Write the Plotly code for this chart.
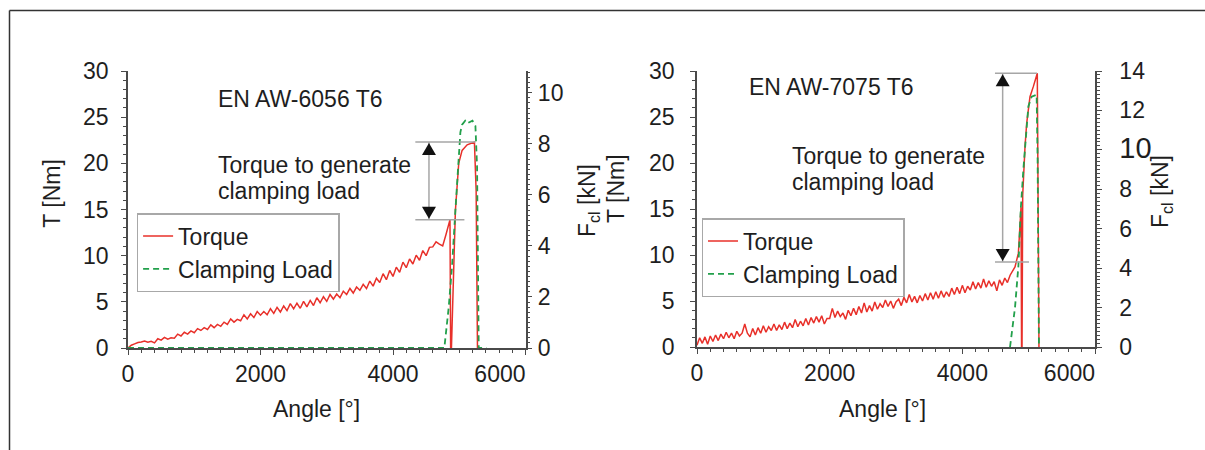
import plotly.graph_objects as go

W, H = 1205, 450
FONT = "Liberation Sans, Arial, Helvetica, sans-serif"
TXT = "#1e1e1e"
AX = "#4a4a4a"
RED = "#e8302a"
GREEN = "#22a04b"
GRAY = "#a6a6a6"

# ---------------- data: EN AW-6056 T6 ----------------
angle_6056 = [0, 50, 100, 150, 200, 250, 300, 350, 400, 450,
              500, 550, 600, 650, 700, 750, 800, 850, 900, 950,
              1000, 1050, 1100, 1150, 1200, 1250, 1300, 1350, 1400, 1450,
              1500, 1550, 1600, 1650, 1700, 1750, 1800, 1850, 1900, 1950,
              2000, 2050, 2100, 2150, 2200, 2250, 2300, 2350, 2400, 2450,
              2500, 2550, 2600, 2650, 2700, 2750, 2800, 2850, 2900, 2950,
              3000, 3050, 3100, 3150, 3200, 3250, 3300, 3350, 3400, 3450,
              3500, 3550, 3600, 3650, 3700, 3750, 3800, 3850, 3900, 3950,
              4000, 4050, 4100, 4150, 4200, 4250, 4300, 4350, 4400, 4450,
              4500, 4550, 4600, 4650, 4700, 4750, 4800, 4850,
              4860, 4870, 4882, 4942, 4992, 5043, 5119, 5229, 5255, 5275]
torque_6056 = [0.0, 0.3, 0.45, 0.6, 0.65, 0.75, 0.62, 0.72, 0.55, 1.0,
               0.85, 1.15, 0.95, 1.1, 1.05, 1.5, 1.3, 1.7, 1.5, 1.85,
               1.65, 2.1, 1.9, 2.2, 2.0, 2.5, 2.2, 2.55, 2.35, 2.8,
               2.55, 3.15, 2.8, 3.1, 2.95, 3.6, 3.15, 3.7, 3.3, 3.95,
               3.55, 3.95, 3.6, 4.25, 3.75, 4.4, 3.9, 4.55, 4.05, 4.8,
               4.25, 4.85, 4.3, 5.05, 4.45, 5.15, 4.6, 5.45, 4.9, 5.55,
               5.05, 5.8, 5.3, 5.85, 5.45, 6.15, 5.8, 6.45, 5.95, 6.6,
               6.25, 6.9, 6.45, 7.25, 6.7, 7.55, 7.1, 8.05, 7.4, 8.4,
               7.75, 8.75, 8.2, 9.3, 8.7, 9.65, 9.1, 10.05, 9.5, 10.55,
               10.0, 10.9, 10.95, 11.5, 11.25, 11.05, 12.3, 13.7,
               13.9, 0.0, 0.0, 14.9, 20.0, 21.4, 22.0, 22.3, 17.0, 0.0]
load_angle_6056 = [0, 4775, 4841, 4891, 4942, 4982, 5017, 5043, 5090, 5120,
                   5160, 5200, 5244, 5269, 5294, 5410]
load_6056 = [0.0, 0.0, 1.6, 3.2, 5.4, 7.2, 8.45, 8.75, 8.9, 8.8,
             8.85, 8.9, 8.7, 7.1, 0.0, 0.0]
bracket_6056_T = [22.3, 13.9]          # Nm, top / bottom of the bracket
bracket_6056_angle = [4337, 5244, 5078, 4543]  # line start, top end, bottom end, arrow

# ---------------- data: EN AW-7075 T6 ----------------
angle_7075 = [0, 40, 80, 120, 160, 200, 240, 280, 320, 360,
              400, 440, 480, 520, 560, 600, 640, 680, 720, 760,
              800, 840, 880, 920, 960, 1000, 1040, 1080, 1120, 1160,
              1200, 1240, 1280, 1320, 1360, 1400, 1440, 1480, 1520, 1560,
              1600, 1640, 1680, 1720, 1760, 1800, 1840, 1880, 1920, 1960,
              2000, 2040, 2080, 2120, 2160, 2200, 2240, 2280, 2320, 2360,
              2400, 2440, 2480, 2520, 2560, 2600, 2640, 2680, 2720, 2760,
              2800, 2840, 2880, 2920, 2960, 3000, 3040, 3080, 3120, 3160,
              3200, 3240, 3280, 3320, 3360, 3400, 3440, 3480, 3520, 3560,
              3600, 3640, 3680, 3720, 3760, 3800, 3840, 3880, 3920, 3960,
              4000, 4040, 4080, 4120, 4160, 4200, 4240, 4280, 4320, 4360,
              4400, 4440, 4480, 4520, 4560, 4600, 4640, 4680,
              4720, 4794, 4845, 4885, 4893, 4900, 4910, 4920, 4945, 4970,
              5020, 5070, 5130, 5150, 5155]
torque_7075 = [0.2, 1.0, 0.4, 1.1, 0.3, 1.2, 0.6, 1.3, 0.7, 1.4,
               0.9, 1.6, 1.0, 1.5, 0.9, 1.7, 1.2, 1.5, 2.5, 1.5,
               1.1, 2.0, 1.3, 2.1, 1.5, 2.3, 1.6, 2.2, 1.8, 2.5,
               1.8, 2.4, 1.9, 2.7, 2.0, 2.6, 2.1, 3.0, 2.2, 2.8,
               2.3, 3.1, 2.4, 3.2, 2.6, 3.3, 2.7, 3.4, 2.5, 3.1,
               3.1, 4.2, 3.2, 3.9, 3.3, 3.7, 3.0, 4.0, 3.4, 4.2,
               3.5, 4.4, 3.7, 4.8, 3.8, 4.5, 3.9, 4.9, 4.1, 4.7,
               4.3, 5.1, 4.4, 5.0, 4.2, 4.9, 5.2, 4.5, 5.4, 4.8,
               5.7, 4.9, 5.5, 4.8, 5.6, 5.0, 5.8, 5.1, 5.9, 5.2,
               6.0, 5.3, 6.1, 5.4, 6.0, 5.5, 6.4, 5.7, 6.5, 5.8,
               6.7, 5.9, 6.6, 6.2, 7.1, 6.3, 7.0, 6.4, 7.4, 6.5,
               7.2, 6.6, 7.1, 6.1, 7.3, 6.7, 7.5, 7.0,
               7.8, 8.7, 10.2, 15.2, 0.0, 0.0, 16.5, 18.5, 21.8, 24.3,
               27.2, 28.3, 29.75, 6.5, 0.0]
load_angle_7075 = [4719, 4794, 4845, 4880, 4920, 4955, 4995, 5045, 5120, 5135, 5155]
load_7075 = [0.0, 2.0, 4.1, 6.95, 9.0, 10.7, 12.2, 12.7, 12.8, 9.5, 0.0]
bracket_7075_T = [29.75, 9.24]
bracket_7075_angle = [4492, 5126, 5005, 4608]

x_ticks = [0, 2000, 4000, 6000]
x_ticktext = ["0", "2000", "4000", "6000" + "\u00a0" * 8]
T_ticks = [0, 5, 10, 15, 20, 25, 30]
F_ticks_6056 = [0, 2, 4, 6, 8, 10]
F_ticks_7075 = [0, 2, 4, 6, 8, 10, 12, 14]
F_ticktext_7075 = ["0", "2", "4", "6", "8",
                   "<span style='font-size:29px'>10</span>", "12", "14"]


def px(x):
    return x / W


def py(y):
    return 1 - y / H


fig = go.Figure()

DASH = "6px,4px"
# left chart traces
fig.add_trace(go.Scatter(x=angle_6056, y=torque_6056, mode="lines", name="Torque",
                         line=dict(color=RED, width=1.5), xaxis="x", yaxis="y",
                         legend="legend"))
fig.add_trace(go.Scatter(x=load_angle_6056, y=load_6056, mode="lines", name="Clamping Load",
                         line=dict(color=GREEN, width=1.8, dash=DASH),
                         xaxis="x", yaxis="y2", legend="legend"))
# right chart traces
fig.add_trace(go.Scatter(x=angle_7075, y=torque_7075, mode="lines", name="Torque",
                         line=dict(color=RED, width=1.5), xaxis="x2", yaxis="y3",
                         legend="legend2"))
fig.add_trace(go.Scatter(x=load_angle_7075, y=load_7075, mode="lines", name="Clamping Load",
                         line=dict(color=GREEN, width=1.8, dash=DASH),
                         xaxis="x2", yaxis="y4", legend="legend2"))

tickfont = dict(family=FONT, size=23, color=TXT)
common_x = dict(range=[0, 6000], tickvals=x_ticks, ticktext=x_ticktext, showline=True,
                linecolor=AX, linewidth=1.5,
                ticks="outside", ticklen=5, tickwidth=1.2, tickcolor=AX, showgrid=False,
                zeroline=False, tickfont=tickfont, ticklabelstandoff=0,
                minor=dict(ticks="outside", dtick=200, ticklen=3, tickwidth=1, tickcolor=AX))
common_T = dict(range=[0, 30], tickvals=T_ticks, showline=True, linecolor=AX, linewidth=1.5,
                ticks="outside", ticklen=5, tickwidth=1.2, tickcolor=AX, showgrid=False,
                zeroline=False, tickfont=tickfont,
                minor=dict(ticks="outside", dtick=1, ticklen=3, tickwidth=1, tickcolor=AX))
common_F = dict(showline=True, linecolor=AX, linewidth=1.5, side="right",
                ticks="outside", ticklen=5, tickwidth=1.2, tickcolor=AX, showgrid=False,
                zeroline=False, tickfont=tickfont,
                minor=dict(ticks="outside", dtick=0.2, ticklen=3, tickwidth=1, tickcolor=AX))

ydom_l = [py(348), py(71)]
ydom_r = [py(347), py(71)]

legend_style = dict(xanchor="left", yanchor="top", bgcolor="white", bordercolor="#a8a8a8",
                    borderwidth=1.5, font=dict(family=FONT, size=23, color=TXT),
                    tracegroupgap=0)

fig.update_layout(
    width=W, height=H,
    margin=dict(l=0, r=0, t=0, b=0, autoexpand=False),
    paper_bgcolor="white", plot_bgcolor="white",
    font=dict(family=FONT, color=TXT),
    xaxis=dict(domain=[px(128), px(525.5)], anchor="y", **common_x),
    yaxis=dict(domain=ydom_l, anchor="x", ticklabelstandoff=8, **common_T),
    yaxis2=dict(range=[0, 10.85], tickvals=F_ticks_6056, overlaying="y", anchor="x",
                ticklabelstandoff=1, **common_F),
    xaxis2=dict(domain=[px(697), px(1095)], anchor="y3", **common_x),
    yaxis3=dict(domain=ydom_r, anchor="x2", ticklabelstandoff=11, **common_T),
    yaxis4=dict(range=[0, 14], tickvals=F_ticks_7075, ticktext=F_ticktext_7075,
                overlaying="y3", anchor="x2", ticklabelstandoff=13, **common_F),
    legend=dict(x=px(136.6), y=py(213), **legend_style),
    legend2=dict(x=px(701.5), y=py(218), **legend_style),
    showlegend=True,
)

# ---------- annotations (text) ----------
def ann(text, x, y, xanchor="center", angle=0, size=23):
    fig.add_annotation(text=text, x=px(x), y=py(y), xref="paper", yref="paper",
                       xanchor=xanchor, yanchor="middle", showarrow=False,
                       textangle=angle, font=dict(family=FONT, size=size, color=TXT))

ann("EN AW-6056 T6", 216, 99, xanchor="left")
ann("Torque to generate", 216, 165, xanchor="left")
ann("clamping load", 216, 191, xanchor="left")
ann("EN AW-7075 T6", 747, 87, xanchor="left")
ann("Torque to generate", 790, 156, xanchor="left")
ann("clamping load", 790, 182, xanchor="left")

ann("T [Nm]", 51.7, 193, angle=-90)
ann("F<sub>cl</sub> [kN]", 588, 201, angle=-90)
ann("Angle [°]", 316, 409)
ann("T [Nm]", 616, 189, angle=-90)
ann("F<sub>cl</sub> [kN]", 1161, 192, angle=-90)
ann("Angle [°]", 883, 409)

# ---------- brackets with arrows ----------
def bracket(xr, yr, T, A):
    top, bot = T
    a0, a_top, a_bot, a_arr = A
    ln = dict(color=GRAY, width=1.5)
    fig.add_shape(type="line", xref=xr, yref=yr, x0=a0, x1=a_top, y0=top, y1=top, line=ln)
    fig.add_shape(type="line", xref=xr, yref=yr, x0=a0, x1=a_bot, y0=bot, y1=bot, line=ln)
    fig.add_shape(type="line", xref=xr, yref=yr, x0=a_arr, x1=a_arr, y0=bot, y1=top, line=ln)
    fig.add_shape(type="path", xref=xr, yref=yr, xsizemode="pixel", ysizemode="pixel",
                  xanchor=a_arr, yanchor=top, path="M0,-1 L-7,-13 L7,-13 Z",
                  fillcolor="#111111", line=dict(width=0))
    fig.add_shape(type="path", xref=xr, yref=yr, xsizemode="pixel", ysizemode="pixel",
                  xanchor=a_arr, yanchor=bot, path="M0,1 L-7,13 L7,13 Z",
                  fillcolor="#111111", line=dict(width=0))

bracket("x", "y", bracket_6056_T, bracket_6056_angle)
bracket("x2", "y3", bracket_7075_T, bracket_7075_angle)

# ---------- outer frame (top + left edge) ----------
frame = dict(color="#333333", width=1.5)
fig.add_shape(type="line", xref="paper", yref="paper", x0=px(9.5), x1=px(9.5), y0=0, y1=py(10.5), line=frame)
fig.add_shape(type="line", xref="paper", yref="paper", x0=px(9.5), x1=1, y0=py(10.5), y1=py(10.5), line=frame)

fig.write_html("out.html")
